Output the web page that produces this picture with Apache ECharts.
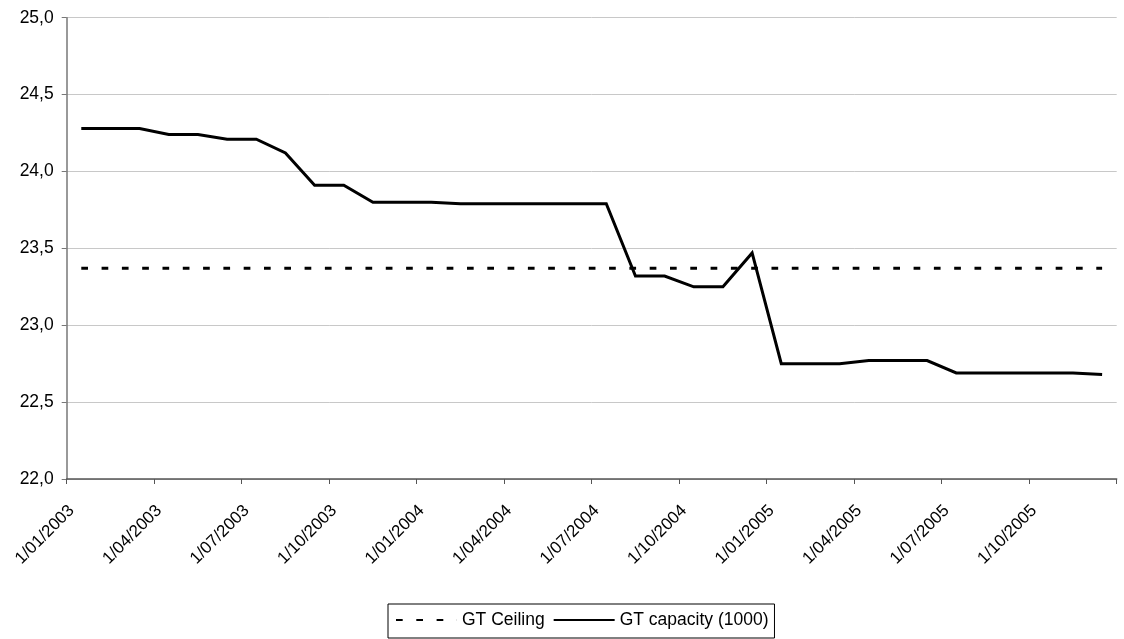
<!DOCTYPE html>
<html>
<head>
<meta charset="utf-8">
<script src="https://cdn.jsdelivr.net/npm/echarts@6/dist/echarts.min.js"></script>
<style>
  html, body { margin: 0; padding: 0; background: #fff; }
  #chart { width: 1124px; height: 639px; }
</style>
</head>
<body>
<div id="chart"></div>
<script>
// Quarterly tick labels on the month axis (one every 3 months, Jan 2003 .. Oct 2005)
const tickLabels = [
  '1/01/2003', '1/04/2003', '1/07/2003', '1/10/2003',
  '1/01/2004', '1/04/2004', '1/07/2004', '1/10/2004',
  '1/01/2005', '1/04/2005', '1/07/2005', '1/10/2005'
];

// Monthly gross tonnage capacity (thousands), Jan 2003 .. Dec 2005
const gtCapacity = [
  24.28, 24.28, 24.28, 24.24, 24.24, 24.21, 24.21, 24.12, 23.91, 23.91, 23.80, 23.80,
  23.80, 23.79, 23.79, 23.79, 23.79, 23.79, 23.79, 23.32, 23.32, 23.25, 23.25, 23.47,
  22.75, 22.75, 22.75, 22.77, 22.77, 22.77, 22.69, 22.69, 22.69, 22.69, 22.69, 22.68
];

// Monthly gross tonnage ceiling (thousands)
const gtCeiling = [
  23.37, 23.37, 23.37, 23.37, 23.37, 23.37, 23.37, 23.37, 23.37, 23.37, 23.37, 23.37,
  23.37, 23.37, 23.37, 23.37, 23.37, 23.37, 23.37, 23.37, 23.37, 23.37, 23.37, 23.37,
  23.37, 23.37, 23.37, 23.37, 23.37, 23.37, 23.37, 23.37, 23.37, 23.37, 23.37, 23.37
];

const seriesNames = ['GT Ceiling', 'GT capacity (1000)'];

// Each month occupies one unit on the x axis; points sit in the middle of their month.
const toPoints = vals => vals.map((v, i) => [i + 0.5, v]);
const monthCount = gtCapacity.length;

const FONT = '"Liberation Sans", Arial, sans-serif';

const chart = echarts.init(document.getElementById('chart'), null, { renderer: 'canvas' });
chart.setOption({
  animation: false,
  backgroundColor: '#ffffff',
  grid: { left: 66.7, right: 7.3, top: 17.7, bottom: 160, containLabel: false },
  xAxis: {
    type: 'value',
    min: 0,
    max: monthCount,
    interval: 3,
    axisLine: { show: true, lineStyle: { color: '#555', width: 1.5 } },
    axisTick: { show: true, length: 5, lineStyle: { color: '#555', width: 1 } },
    splitLine: { show: false },
    axisLabel: {
      rotate: 45,
      margin: 24,
      color: '#000',
      fontFamily: FONT,
      fontSize: 17,
      lineHeight: 14,
      verticalAlign: 'top',
      showMaxLabel: true,
      formatter: v => {
        const k = Math.round(v / 3);
        return tickLabels[k] !== undefined ? tickLabels[k] : '';
      }
    }
  },
  yAxis: {
    type: 'value',
    min: 22,
    max: 25,
    interval: 0.5,
    axisLine: { show: true, lineStyle: { color: '#777', width: 1.5 } },
    axisTick: { show: true, length: 5, lineStyle: { color: '#777', width: 1 } },
    splitLine: { show: true, lineStyle: { color: '#c8c8c8', width: 1 } },
    axisLabel: {
      margin: 13,
      color: '#000',
      fontFamily: FONT,
      fontSize: 17.5,
      formatter: v => v.toFixed(1).replace('.', ',')
    }
  },
  legend: {
    left: 388,
    top: 604,
    orient: 'horizontal',
    data: seriesNames,
    itemWidth: 61,
    itemHeight: 14,
    itemGap: 8,
    padding: [7, 6, 9, 7],
    borderColor: '#000',
    borderWidth: 1,
    borderRadius: 0,
    itemStyle: { color: 'rgba(0,0,0,0)', borderColor: 'rgba(0,0,0,0)', borderWidth: 0 },
    textStyle: { color: '#000', fontFamily: FONT, fontSize: 17.5 }
  },
  series: [
    {
      name: seriesNames[0],
      type: 'line',
      data: toPoints(gtCeiling),
      symbol: 'none',
      silent: true,
      lineStyle: { color: '#000', width: 3, type: [6.7, 13.6], cap: 'butt' },
      itemStyle: { color: '#000' }
    },
    {
      name: seriesNames[1],
      type: 'line',
      data: toPoints(gtCapacity),
      symbol: 'none',
      silent: true,
      lineStyle: { color: '#000', width: 3, join: 'miter' },
      itemStyle: { color: '#000' }
    }
  ]
});
</script>
</body>
</html>
